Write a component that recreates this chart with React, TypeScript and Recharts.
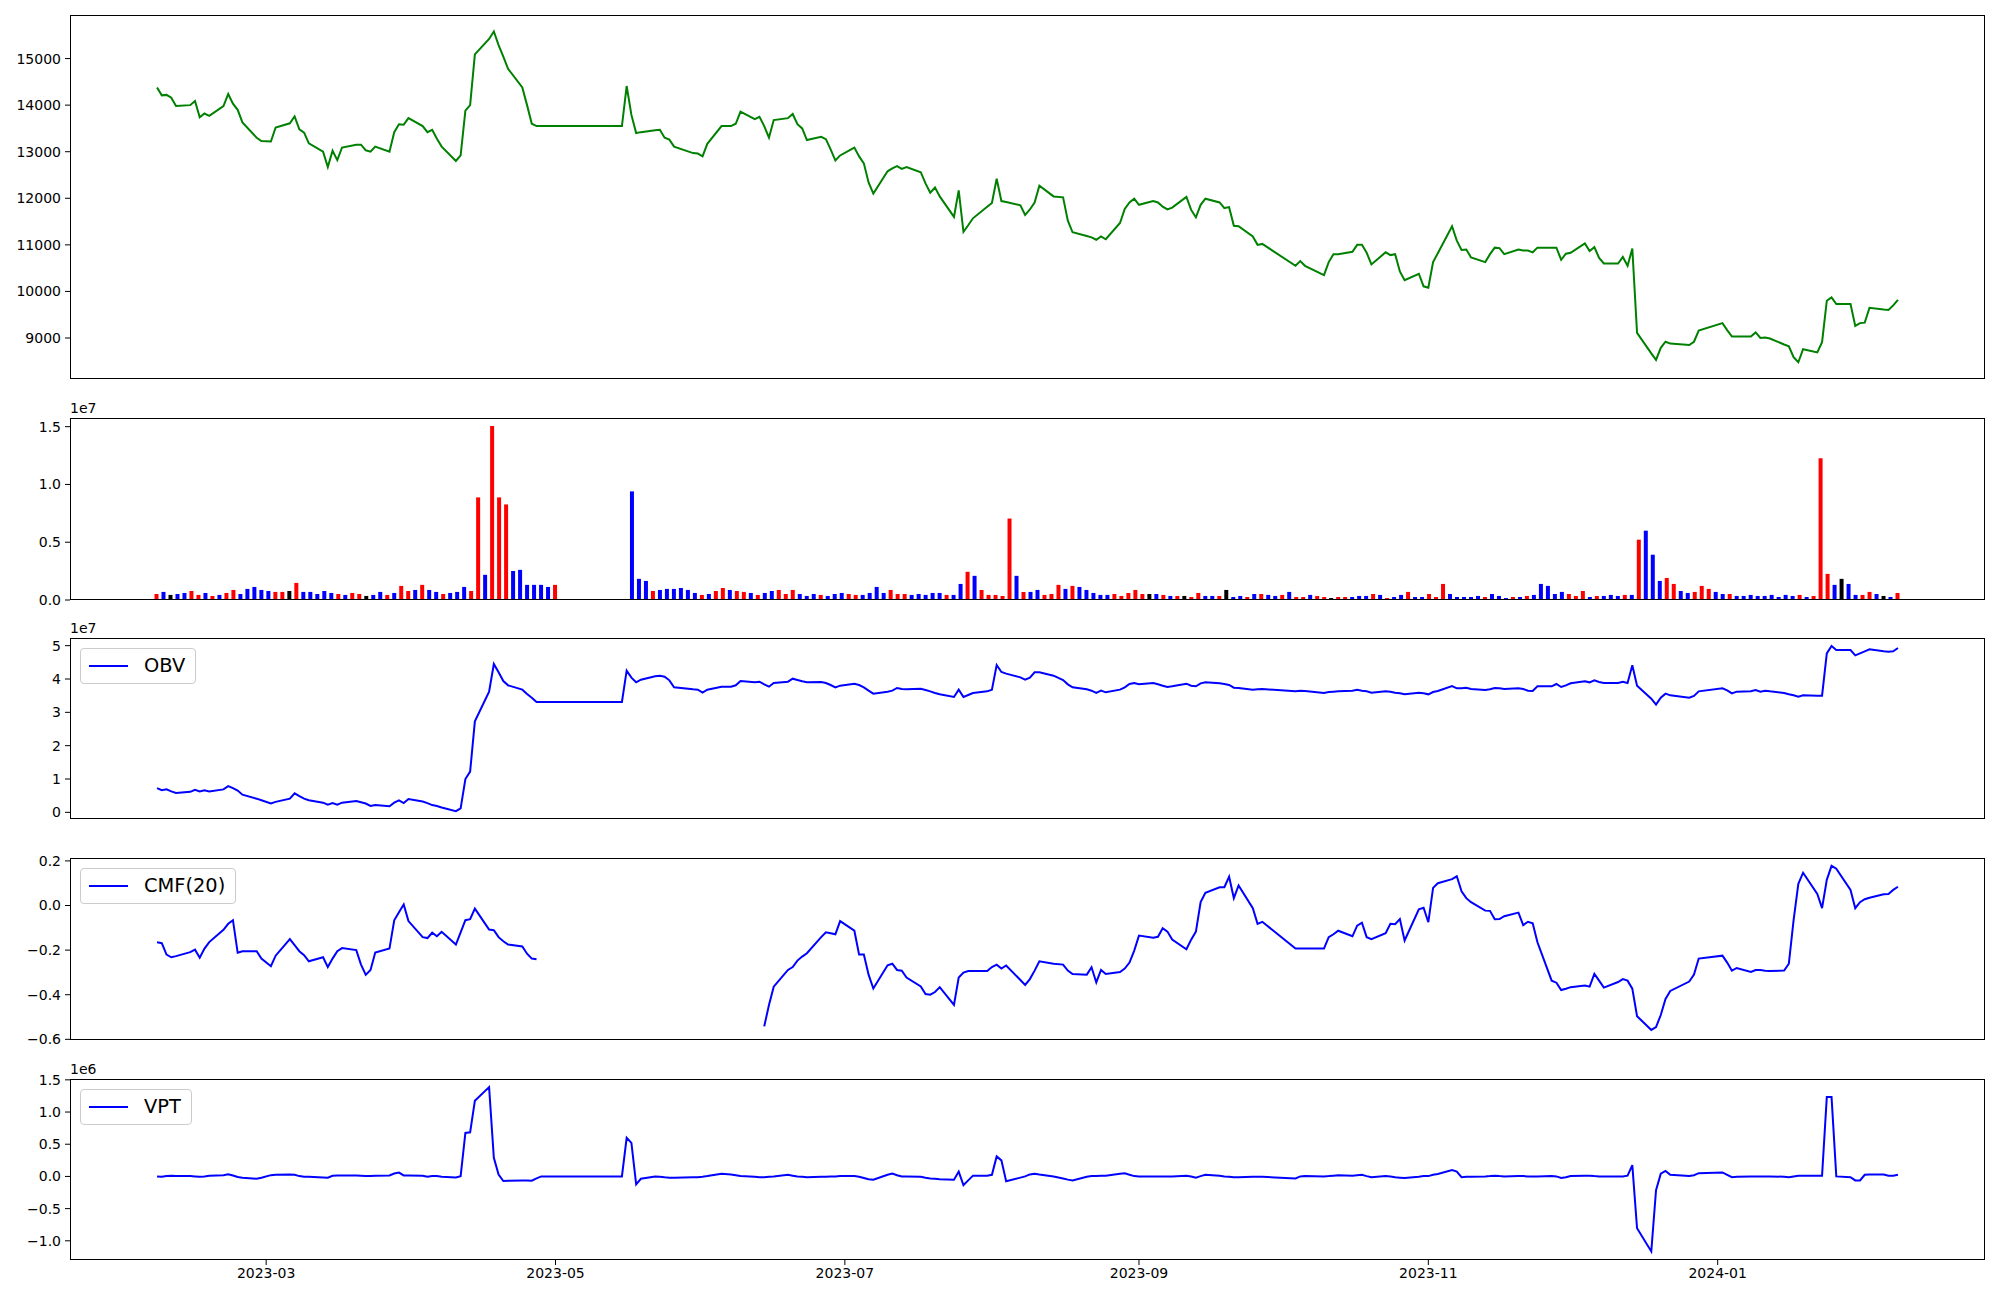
import React from 'react';
import { LineChart, Line, BarChart, Bar, Cell, XAxis, YAxis } from 'recharts';

// trading calendar (KRX) for the period shown
const FIRST_DAY = '2023-02-06';
const LAST_DAY = '2024-02-08';
const MARKET_HOLIDAYS = [
  '2023-03-01', '2023-05-01', '2023-05-05', '2023-05-29', '2023-06-06', '2023-08-15',
  '2023-09-28', '2023-09-29', '2023-10-02', '2023-10-03', '2023-10-09', '2023-12-25',
  '2023-12-29', '2024-01-01',
];

// close price, one value per trading day
const CLOSE = [
  14380, 14210, 14220, 14160, 13980, 14000, 14090, 13740, 13820, 13770,
  13980, 14240, 14030, 13900, 13630, 13300, 13230, 13220, 13520, 13610,
  13760, 13480, 13410, 13180, 13000, 12670, 13020, 12820, 13090, 13150,
  13150, 13030, 13000, 13110, 13000, 13420, 13590, 13580, 13720, 13550,
  13420, 13470, 13280, 13110, 12800, 12920, 13880, 14000, 15090, 15420,
  15580, 15290, 15040, 14780, 14380, 14000, 13600, 13550, 13550, 13550,
  13550, 13550, 13550, 13550, 13550, 13550, 13550, 13550, 14410, 13790,
  13400, 13420, 13460, 13470, 13300, 13260, 13110, 12970, 12960, 12900,
  13170, 13550, 13550, 13600, 13860, 13700, 13750, 13550, 13300, 13680,
  13720, 13810, 13590, 13500, 13250, 13320, 13270, 13050, 12810, 12920,
  13090, 12900, 12750, 12340, 12100, 12580, 12640, 12690, 12630, 12670,
  12560, 12320, 12120, 12230, 12040, 11600, 12170, 11280, 11420, 11570,
  11820, 11900, 12420, 11940, 11920, 11850, 11640, 11760, 11910, 12270,
  12040, 12020, 11520, 11270, 11190, 11160, 11110, 11180, 11120, 11470,
  11770, 11910, 11990, 11860, 11940, 11910, 11820, 11760, 11800, 12030,
  11750, 11590, 11860, 11990, 11910, 11790, 11810, 11410, 11400, 11180,
  11000, 11020, 10550, 10650, 10550, 10350, 10630, 10800, 10800, 10850,
  11000, 11000, 10830, 10580, 10840, 10780, 10800, 10430, 10240, 10380,
  10110, 10080, 10630, 10820, 11400, 11090, 10890, 10900, 10730, 10630,
  10800, 10940, 10930, 10800, 10900, 10880, 10880, 10840, 10940, 10940,
  10940, 10680, 10810, 10830, 11030, 10870, 10950, 10720, 10600, 10600,
  10740, 10550, 10920, 9110, 8670, 8530, 8790, 8920, 8880, 8850,
  8920, 9160, 9320, 9170, 9030, 9030, 9030, 9120, 9000, 9010,
  8990, 8860, 8820, 8590, 8480, 8760, 8690, 8910, 9800, 9870,
  9730, 9730, 9260, 9320, 9330, 9650, 9610, 9600, 9700, 9820,
];

// volume in millions of shares
const VOLUME_M = [
  0.52, 0.70, 0.44, 0.52, 0.61, 0.78, 0.44, 0.61, 0.35, 0.44,
  0.61, 0.87, 0.52, 0.96, 1.13, 0.87, 0.78, 0.70, 0.70, 0.78,
  1.48, 0.70, 0.70, 0.52, 0.78, 0.61, 0.52, 0.44, 0.61, 0.52,
  0.35, 0.44, 0.70, 0.44, 0.61, 1.22, 0.78, 0.87, 1.31, 0.87,
  0.70, 0.52, 0.61, 0.70, 1.13, 0.78, 8.88, 2.18, 15.06, 8.88,
  8.27, 2.52, 2.61, 1.31, 1.31, 1.31, 1.13, 1.31, 0, 0,
  0, 0, 0, 0, 0, 0, 0, 0, 9.40, 1.83,
  1.65, 0.78, 0.87, 0.96, 0.96, 1.04, 0.87, 0.61, 0.44, 0.52,
  0.78, 1.04, 0.87, 0.78, 0.70, 0.61, 0.44, 0.61, 0.78, 0.87,
  0.52, 0.87, 0.52, 0.35, 0.52, 0.44, 0.35, 0.52, 0.61, 0.52,
  0.44, 0.44, 0.61, 1.13, 0.61, 0.87, 0.52, 0.52, 0.44, 0.52,
  0.44, 0.61, 0.61, 0.44, 0.44, 1.39, 2.44, 2.09, 0.87, 0.44,
  0.44, 0.35, 7.05, 2.09, 0.70, 0.70, 0.87, 0.44, 0.52, 1.31,
  0.96, 1.22, 1.13, 0.87, 0.61, 0.44, 0.44, 0.52, 0.35, 0.61,
  0.87, 0.52, 0.52, 0.52, 0.44, 0.35, 0.35, 0.35, 0.26, 0.61,
  0.35, 0.35, 0.35, 0.87, 0.26, 0.35, 0.26, 0.52, 0.52, 0.44,
  0.35, 0.44, 0.70, 0.26, 0.26, 0.44, 0.35, 0.26, 0.17, 0.26,
  0.26, 0.26, 0.35, 0.35, 0.52, 0.44, 0.17, 0.26, 0.44, 0.70,
  0.26, 0.26, 0.52, 0.26, 1.39, 0.52, 0.26, 0.26, 0.26, 0.35,
  0.26, 0.52, 0.35, 0.17, 0.26, 0.26, 0.35, 0.44, 1.39, 1.22,
  0.52, 0.70, 0.52, 0.35, 0.78, 0.26, 0.35, 0.35, 0.44, 0.35,
  0.44, 0.44, 5.22, 6.00, 3.92, 1.65, 1.91, 1.39, 0.78, 0.61,
  0.70, 1.22, 0.96, 0.70, 0.52, 0.52, 0.35, 0.35, 0.44, 0.35,
  0.35, 0.44, 0.26, 0.44, 0.35, 0.44, 0.26, 0.35, 12.27, 2.26,
  1.31, 1.83, 1.39, 0.44, 0.44, 0.70, 0.52, 0.35, 0.26, 0.61,
];

// candle side of each volume bar: r = up, b = down, k = unchanged, - = no trade
const BAR_SIDE = (
  'rbkbbrrbrb' + 'rrbbbbbrrk' + 'rbbbbbrbrr' + 'kbbrbrrbrb' + 'brbbbrrbrr' +
  'rbbbbbbr--' + '--------bb' + 'brbbbbbbrb' + 'rrbrrbrbbr' + 'rrbbbrbbbr' +
  'rbbbbrrrbb' + 'bbbrbbrbrr' + 'rrrbrbbrrr' + 'brbbbbbrrr' + 'rrkbrbrkrr' +
  'bbrkbbrbrb' + 'brbrrbrrkr' + 'rbbbrbrbbr' + 'bbrrrbbbbb' + 'rbbbrbrbbb' +
  'bbrrrbrbbb' + 'rbrbbbrrbb' + 'rrrbbrbbbb' + 'bbbbbrbrrr' + 'bkbbrrbkbr'
).split('');

// on-balance volume, units of 1e7
const OBV_E7 = [
  0.725, 0.665, 0.689, 0.628, 0.58, 0.616, 0.677, 0.628, 0.665, 0.628,
  0.689, 0.786, 0.725, 0.653, 0.53, 0.41, 0.362, 0.265, 0.314, 0.41,
  0.568, 0.483, 0.41, 0.362, 0.29, 0.229, 0.277, 0.229, 0.29, 0.338,
  0.30, 0.265, 0.19, 0.217, 0.18, 0.29, 0.362, 0.277, 0.398, 0.326,
  0.277, 0.217, 0.19, 0.144, 0.035, 0.12, 1.0, 1.22, 2.73, 3.62,
  4.45, 4.2, 3.94, 3.81, 3.68, 3.55, 3.44, 3.31, 3.31, 3.31,
  3.31, 3.31, 3.31, 3.31, 3.31, 3.31, 3.31, 3.31, 4.25, 4.04,
  3.90, 3.98, 4.08, 4.10, 4.07, 3.96, 3.75, 3.69, 3.68, 3.59,
  3.68, 3.77, 3.77, 3.81, 3.94, 3.90, 3.92, 3.84, 3.77, 3.88,
  3.92, 4.01, 3.97, 3.93, 3.90, 3.91, 3.88, 3.82, 3.75, 3.80,
  3.86, 3.82, 3.75, 3.65, 3.56, 3.62, 3.65, 3.73, 3.70, 3.69,
  3.71, 3.67, 3.63, 3.58, 3.54, 3.46, 3.68, 3.46, 3.52, 3.58,
  3.63, 3.68, 4.42, 4.21, 4.16, 4.05, 3.98, 4.04, 4.20, 4.20,
  4.10, 3.97, 3.84, 3.75, 3.69, 3.65, 3.58, 3.65, 3.60, 3.68,
  3.75, 3.85, 3.88, 3.84, 3.88, 3.84, 3.80, 3.76, 3.78, 3.86,
  3.80, 3.78, 3.87, 3.90, 3.87, 3.85, 3.82, 3.74, 3.73, 3.68,
  3.69, 3.70, 3.63, 3.65, 3.64, 3.58, 3.61, 3.62, 3.63, 3.65,
  3.68, 3.65, 3.63, 3.59, 3.63, 3.62, 3.59, 3.57, 3.54, 3.59,
  3.57, 3.54, 3.61, 3.64, 3.79, 3.72, 3.72, 3.74, 3.70, 3.67,
  3.69, 3.73, 3.72, 3.70, 3.72, 3.70, 3.65, 3.64, 3.78, 3.78,
  3.85, 3.76, 3.81, 3.87, 3.93, 3.90, 3.96, 3.91, 3.88, 3.88,
  3.92, 3.88, 4.41, 3.80, 3.41, 3.23, 3.44, 3.56, 3.51, 3.44,
  3.49, 3.63, 3.72, 3.66, 3.57, 3.62, 3.63, 3.67, 3.62, 3.65,
  3.63, 3.58, 3.54, 3.51, 3.47, 3.51, 3.50, 3.50, 4.77, 4.99,
  4.87, 4.87, 4.71, 4.77, 4.83, 4.89, 4.83, 4.82, 4.83, 4.93,
];

// Chaikin money flow (20); null while the window holds no-trade days
const CMF_20 = [
  -0.165, -0.169, -0.22, -0.232, -0.227, -0.209, -0.198, -0.234, -0.193, -0.164,
  -0.109, -0.082, -0.066, -0.212, -0.205, -0.205, -0.238, -0.272, -0.225, -0.151,
  -0.178, -0.205, -0.223, -0.25, -0.232, -0.276, -0.238, -0.205, -0.191, -0.2,
  -0.265, -0.311, -0.289, -0.211, -0.193, -0.066, -0.03, 0.005, -0.07, -0.142,
  -0.146, -0.122, -0.138, -0.118, -0.175, -0.12, -0.066, -0.061, -0.014, -0.108,
  -0.111, -0.142, -0.16, -0.175, -0.184, -0.216, -0.238, -0.241, null, null,
  null, null, null, null, null, null, null, null, null, null,
  null, null, null, null, null, null, null, null, null, null,
  null, null, null, null, null, null, null, -0.542, -0.446, -0.364,
  -0.289, -0.276, -0.247, -0.229, -0.214, -0.142, -0.12, -0.124, -0.129, -0.07,
  -0.113, -0.22, -0.22, -0.31, -0.372, -0.268, -0.261, -0.289, -0.292, -0.323,
  -0.363, -0.397, -0.4, -0.388, -0.366, -0.446, -0.323, -0.301, -0.294, -0.294,
  -0.294, -0.276, -0.265, -0.283, -0.269, -0.334, -0.356, -0.33, -0.292, -0.25,
  -0.261, -0.265, -0.292, -0.307, -0.31, -0.277, -0.345, -0.289, -0.307, -0.298,
  -0.283, -0.256, -0.202, -0.135, -0.144, -0.14, -0.102, -0.117, -0.153, -0.196,
  -0.153, -0.117, 0.015, 0.057, 0.082, 0.082, 0.129, 0.033, 0.09, -0.012,
  -0.082, -0.073, -0.193, -0.193, -0.193, -0.193, -0.142, -0.129, -0.113, -0.138,
  -0.09, -0.077, -0.142, -0.151, -0.124, -0.082, -0.084, -0.061, -0.157, -0.017,
  -0.01, -0.075, 0.079, 0.1, 0.118, 0.131, 0.064, 0.033, 0.015, -0.023,
  -0.024, -0.062, -0.061, -0.048, -0.032, -0.088, -0.073, -0.08, -0.165, -0.337,
  -0.346, -0.379, -0.373, -0.366, -0.359, -0.364, -0.307, -0.337, -0.368, -0.343,
  -0.33, -0.337, -0.373, -0.496, -0.558, -0.545, -0.491, -0.419, -0.383, -0.341,
  -0.31, -0.238, -0.225, -0.256, -0.292, -0.28, -0.298, -0.289, -0.289, -0.292,
  -0.294, -0.292, -0.261, -0.066, 0.097, 0.147, 0.052, -0.012, 0.115, 0.178,
  0.165, 0.07, -0.012, 0.015, 0.028, 0.035, 0.05, 0.052, 0.07, 0.084,
];

// volume price trend, units of 1e6
const VPT_E6 = [
  0, -0.005, 0.005, 0.01, 0.005, 0.005, 0, -0.005, 0, 0.01,
  0.02, 0.035, 0.015, -0.01, -0.02, -0.036, -0.02, 0.02, 0.025, 0.03,
  0.025, 0.005, -0.005, -0.005, -0.015, -0.02, 0.01, 0.015, 0.015, 0.015,
  0.01, 0.005, 0.005, 0.01, 0.015, 0.046, 0.06, 0.015, 0.015, 0.01,
  -0.005, 0.005, 0.005, -0.005, -0.015, 0.005, 0.675, 0.685, 1.175, 1.387,
  0.29, 0.03, -0.072, -0.067, -0.062, -0.062, -0.067, -0.03, 0, 0,
  0, 0, 0, 0, 0, 0, 0, 0, 0.6, 0.52,
  -0.124, -0.036, 0, -0.005, -0.013, -0.019, -0.019, -0.013, -0.013, -0.005,
  0.005, 0.043, 0.031, 0.019, 0.005, -0.005, -0.013, -0.013, -0.005, 0,
  0.025, 0.012, 0, -0.005, -0.013, -0.005, -0.005, 0, 0, 0.005,
  0.005, -0.005, -0.025, -0.045, -0.05, 0.025, 0.043, 0.019, 0, 0,
  -0.005, -0.019, -0.031, -0.037, -0.045, -0.05, 0.075, -0.135, -0.062, 0.012,
  0.012, 0.025, 0.311, 0.249, -0.075, -0.019, 0, 0.031, 0.043, 0.031,
  0, -0.031, -0.05, -0.062, -0.005, 0.005, 0.005, 0.012, 0.012, 0.043,
  0.05, 0.025, 0.005, 0, 0, 0, 0, 0, 0, 0.012,
  0, -0.019, 0.005, 0.025, 0.012, 0, -0.005, -0.013, -0.013, -0.005,
  -0.005, -0.005, -0.031, 0, 0.005, 0, 0.005, 0.012, 0.019, 0.012,
  0.019, 0.025, 0.005, -0.013, 0.005, 0, -0.013, -0.019, -0.025, -0.005,
  0.005, 0.005, 0.025, 0.037, 0.099, 0.075, -0.013, -0.005, -0.005, 0,
  0.005, 0.012, 0.005, 0, 0.005, 0.005, 0, 0, 0, 0.005,
  0, -0.025, -0.013, 0.005, 0.012, 0.012, 0.005, 0, 0, 0,
  0, 0.012, 0.175, -0.805, -1.165, -0.215, 0.043, 0.085, 0.025, 0.005,
  0.019, 0.05, 0.062, 0.025, -0.013, -0.005, 0, 0, 0, 0,
  0, -0.005, -0.013, 0, 0.012, 0.012, 0.012, 0.012, 1.232, 1.232,
  0, -0.013, -0.062, -0.062, 0.025, 0.031, 0.031, 0.012, 0.012, 0.025,
];

const DATE_TICKS = ['2023-03-01', '2023-05-01', '2023-07-01', '2023-09-01', '2023-11-01', '2024-01-01'];
const PRICE_TICKS = [9000, 10000, 11000, 12000, 13000, 14000, 15000];
const VOL_TICKS = [0, 5, 10, 15];
const OBV_TICKS = [0, 1, 2, 3, 4, 5];
const CMF_TICKS = [-0.6, -0.4, -0.2, 0, 0.2];
const VPT_TICKS = [-1, -0.5, 0, 0.5, 1, 1.5];

const SIDE_COLOR: Record<string, string> = { r: '#ff0000', b: '#0000ff', k: '#000000', '-': 'none' };

const FONT = '"DejaVu Sans", sans-serif';
const W = 2000;
const PLOT_L = 70;
const PLOT_R = 15;
const PAD = 12; // room above/below each plot so edge tick labels are not cut
const MARGIN = { top: PAD, right: PLOT_R, left: 0, bottom: PAD };
const TICK = { fill: '#000', fontSize: 14, fontFamily: FONT };

const toUTC = (s: string) => {
  const [y, m, d] = s.split('-').map(Number);
  return Date.UTC(y, m - 1, d);
};
const DAY = 86400000;

function tradingDays() {
  const closed = new Set(MARKET_HOLIDAYS.map(toUTC));
  const out: number[] = [];
  for (let t = toUTC(FIRST_DAY); t <= toUTC(LAST_DAY); t += DAY) {
    const wd = new Date(t).getUTCDay();
    if (wd === 0 || wd === 6 || closed.has(t)) continue;
    out.push(t);
  }
  return out;
}

const DAYS = tradingDays();
const rows = DAYS.map((t, i) => ({
  t,
  i,
  close: CLOSE[i],
  vol: VOLUME_M[i],
  side: BAR_SIDE[i] || '-',
  obv: OBV_E7[i],
  cmf: CMF_20[i],
  vpt: VPT_E6[i],
}));

const t0 = DAYS[0];
const t1 = DAYS[DAYS.length - 1];
const span = t1 - t0;
const X_DOMAIN = [t0 - 0.05 * span, t1 + 0.05 * span];

const minus = (v: number, digits: number) => (v < 0 ? '\u2212' : '') + Math.abs(v).toFixed(digits);

const Frame = ({ top, height }: { top: number; height: number }) => (
  <div
    style={{
      position: 'absolute',
      left: PLOT_L,
      top,
      width: W - PLOT_L - PLOT_R,
      height,
      border: '1px solid #000',
      boxSizing: 'border-box',
      pointerEvents: 'none',
    }}
  />
);

const OffsetText = ({ top, text }: { top: number; text: string }) => (
  <div style={{ position: 'absolute', left: PLOT_L, top: top - 18, fontSize: 14, lineHeight: '16px', fontFamily: FONT }}>
    {text}
  </div>
);

const LegendBox = ({ top, label }: { top: number; label: string }) => (
  <div
    style={{
      position: 'absolute',
      left: PLOT_L + 10,
      top: top + 10,
      display: 'flex',
      alignItems: 'center',
      padding: '6px 10px 6px 8px',
      border: '1px solid #cccccc',
      borderRadius: 4,
      background: 'rgba(255,255,255,0.8)',
      fontFamily: FONT,
      fontSize: 19.4,
      lineHeight: '22px',
    }}
  >
    <span style={{ display: 'inline-block', width: 39, borderTop: '2px solid #0000ff', marginRight: 16 }} />
    <span>{label}</span>
  </div>
);

const yAxisProps = {
  width: PLOT_L,
  type: 'number' as const,
  tick: TICK,
  tickSize: 5,
  tickMargin: 4,
  axisLine: false,
  tickLine: { stroke: '#000' },
  allowDataOverflow: true,
  interval: 0 as const,
};

const P1 = { top: 15, h: 364 };
const P2 = { top: 418, h: 182 };
const P3 = { top: 638, h: 181 };
const P4 = { top: 858, h: 182 };
const P5 = { top: 1079, h: 181 };

const Holder = ({ top, children }: { top: number; children: React.ReactNode }) => (
  <div style={{ position: 'absolute', left: 0, top: top - PAD }}>{children}</div>
);

export default function App() {
  return (
    <div style={{ position: 'absolute', left: 0, top: 0, width: W, height: 1300, background: '#fff', overflow: 'hidden', fontFamily: FONT }}>
      {/* price */}
      <Holder top={P1.top}>
        <LineChart width={W} height={P1.h + 2 * PAD} data={rows} margin={MARGIN}>
          <XAxis dataKey="t" type="number" domain={X_DOMAIN} allowDataOverflow hide />
          <YAxis {...yAxisProps} domain={[8120, 15935]} ticks={PRICE_TICKS} />
          <Line dataKey="close" stroke="#008000" strokeWidth={2} dot={false} isAnimationActive={false} />
        </LineChart>
      </Holder>
      <Frame top={P1.top} height={P1.h} />

      {/* volume, drawn against the bar index */}
      <Holder top={P2.top}>
        <BarChart width={W} height={P2.h + 2 * PAD} data={rows} margin={MARGIN} barCategoryGap={0}>
          <XAxis dataKey="i" type="category" hide padding={{ left: 83.5, right: 83.5 }} />
          <YAxis {...yAxisProps} domain={[0, 15.75]} ticks={VOL_TICKS} tickFormatter={(v: number) => (v / 10).toFixed(1)} />
          <Bar dataKey="vol" barSize={4} isAnimationActive={false}>
            {rows.map((r) => (
              <Cell key={r.i} fill={SIDE_COLOR[r.side]} />
            ))}
          </Bar>
        </BarChart>
      </Holder>
      <Frame top={P2.top} height={P2.h} />
      <OffsetText top={P2.top} text="1e7" />

      {/* OBV */}
      <Holder top={P3.top}>
        <LineChart width={W} height={P3.h + 2 * PAD} data={rows} margin={MARGIN}>
          <XAxis dataKey="t" type="number" domain={X_DOMAIN} allowDataOverflow hide />
          <YAxis {...yAxisProps} domain={[-0.2, 5.23]} ticks={OBV_TICKS} tickFormatter={(v: number) => String(v)} />
          <Line dataKey="obv" stroke="#0000ff" strokeWidth={2} dot={false} isAnimationActive={false} />
        </LineChart>
      </Holder>
      <Frame top={P3.top} height={P3.h} />
      <OffsetText top={P3.top} text="1e7" />
      <LegendBox top={P3.top} label="OBV" />

      {/* CMF */}
      <Holder top={P4.top}>
        <LineChart width={W} height={P4.h + 2 * PAD} data={rows} margin={MARGIN}>
          <XAxis dataKey="t" type="number" domain={X_DOMAIN} allowDataOverflow hide />
          <YAxis {...yAxisProps} domain={[-0.603, 0.213]} ticks={CMF_TICKS} tickFormatter={(v: number) => minus(v, 1)} />
          <Line dataKey="cmf" stroke="#0000ff" strokeWidth={2} dot={false} isAnimationActive={false} />
        </LineChart>
      </Holder>
      <Frame top={P4.top} height={P4.h} />
      <LegendBox top={P4.top} label="CMF(20)" />

      {/* VPT with the shared date axis */}
      <Holder top={P5.top}>
        <LineChart width={W} height={P5.h + PAD + 40} data={rows} margin={{ ...MARGIN, bottom: 0 }}>
          <XAxis
            dataKey="t"
            type="number"
            domain={X_DOMAIN}
            allowDataOverflow
            ticks={DATE_TICKS.map(toUTC)}
            tickFormatter={(t: number) => new Date(t).toISOString().slice(0, 7)}
            tick={TICK}
            tickSize={5}
            tickMargin={3}
            axisLine={false}
            tickLine={{ stroke: '#000' }}
            height={40}
            interval={0}
          />
          <YAxis {...yAxisProps} domain={[-1.298, 1.513]} ticks={VPT_TICKS} tickFormatter={(v: number) => minus(v, 1)} />
          <Line dataKey="vpt" stroke="#0000ff" strokeWidth={2} dot={false} isAnimationActive={false} />
        </LineChart>
      </Holder>
      <Frame top={P5.top} height={P5.h} />
      <OffsetText top={P5.top} text="1e6" />
      <LegendBox top={P5.top} label="VPT" />
    </div>
  );
}
